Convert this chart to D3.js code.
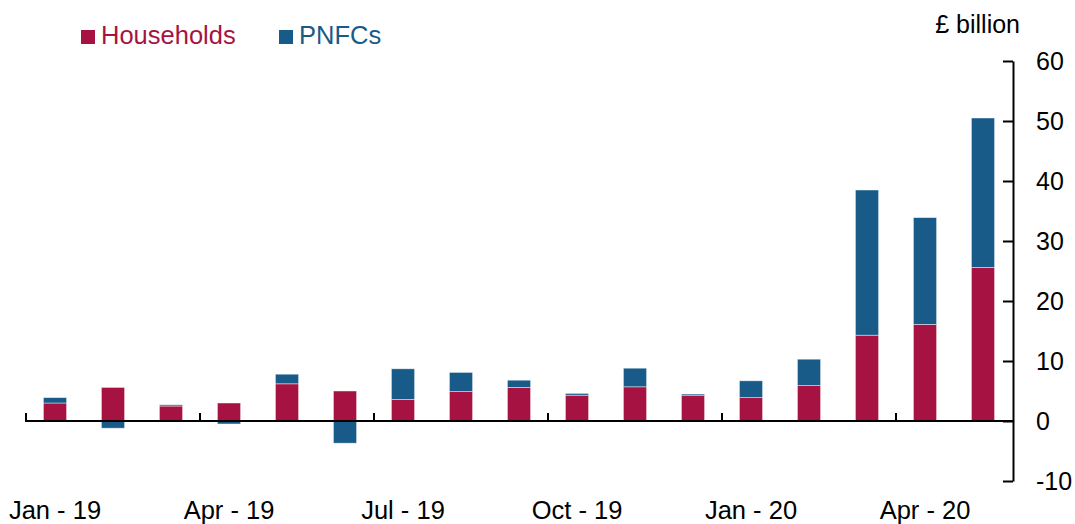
<!DOCTYPE html>
<html>
<head>
<meta charset="utf-8">
<script src="https://cdn.jsdelivr.net/npm/d3@7"></script>
<style>
  body { margin: 0; background: #fff; }
  svg text { font-family: "Liberation Sans", Arial, sans-serif; }
</style>
</head>
<body>
<svg id="chart" width="1075" height="524"></svg>
<script>
// monthly flows, £ billion
var months = ["Jan-19","Feb-19","Mar-19","Apr-19","May-19","Jun-19","Jul-19","Aug-19","Sep-19",
              "Oct-19","Nov-19","Dec-19","Jan-20","Feb-20","Mar-20","Apr-20","May-20"];
var households = [3.0, 5.6, 2.5, 3.0, 6.2, 5.0, 3.6, 4.9, 5.6, 4.3, 5.7, 4.3, 3.9, 5.9, 14.3, 16.1, 25.6];
var pnfcs      = [0.9, -1.2, 0.2, -0.5, 1.6, -3.7, 5.1, 3.2, 1.2, 0.3, 3.1, 0.2, 2.8, 4.4, 24.2, 17.8, 24.9];
var quarterLabels = ["Jan - 19", "Apr - 19", "Jul - 19", "Oct - 19", "Jan - 20", "Apr - 20"];
var yTicks = [-10, 0, 10, 20, 30, 40, 50, 60];

var seriesNames = ["Households", "PNFCs"];
var colors = { Households: "#a61342", PNFCs: "#185a88" };

var svg = d3.select("#chart");

var x = d3.scaleBand()
    .domain(months)
    .range([26, 1012])
    .paddingInner(0.6)
    .paddingOuter(0.3);

var y = d3.scaleLinear()
    .domain([-10, 60])
    .range([481, 61]);

var rows = months.map(function (m, i) {
  return { month: m, Households: households[i], PNFCs: pnfcs[i] };
});

var stack = d3.stack()
    .keys(seriesNames)
    .offset(d3.stackOffsetDiverging);
var layers = stack(rows);

svg.append("g").selectAll("g")
    .data(layers)
  .enter().append("g")
    .attr("fill", function (d) { return colors[d.key]; })
  .selectAll("rect")
    .data(function (d) { return d; })
  .enter().append("rect")
    .attr("x", function (d) { return x(d.data.month); })
    .attr("width", x.bandwidth())
    .attr("y", function (d) { return y(Math.max(d[0], d[1])); })
    .attr("height", function (d) { return Math.abs(y(d[0]) - y(d[1])); })
    .attr("stroke", "rgba(255,255,255,0.55)")
    .attr("stroke-width", 0.8);

// zero line with quarterly ticks pointing up
var gap = (x.step() - x.bandwidth()) / 2;
svg.append("line")
    .attr("x1", 25).attr("x2", 1013)
    .attr("y1", y(0)).attr("y2", y(0))
    .attr("stroke", "#000").attr("stroke-width", 2);

var quarterMonths = months.filter(function (m, i) { return i % 3 === 0; });
svg.append("g").selectAll("line")
    .data(quarterMonths)
  .enter().append("line")
    .attr("x1", function (m) { return x(m) - gap; })
    .attr("x2", function (m) { return x(m) - gap; })
    .attr("y1", y(0)).attr("y2", y(0) - 8)
    .attr("stroke", "#000").attr("stroke-width", 2);

svg.append("g").selectAll("text")
    .data(quarterMonths)
  .enter().append("text")
    .attr("x", function (m) { return x(m) + x.bandwidth() / 2; })
    .attr("y", 519)
    .attr("text-anchor", "middle")
    .attr("font-size", 25.5)
    .attr("fill", "#000")
    .text(function (m, i) { return quarterLabels[i]; });

// right-hand value axis
var yAxis = d3.axisRight(y)
    .tickValues(yTicks)
    .tickFormat(function (d) { return String(d); })
    .tickSizeInner(-10)
    .tickSizeOuter(0)
    .tickPadding(23);

var gy = svg.append("g")
    .attr("transform", "translate(1013,0)")
    .call(yAxis);
gy.select(".domain").attr("stroke", "#000").attr("stroke-width", 2);
gy.selectAll(".tick line").attr("stroke", "#000").attr("stroke-width", 2);
gy.selectAll(".tick text")
    .attr("font-size", 25)
    .attr("font-family", "Liberation Sans, Arial, sans-serif")
    .attr("fill", "#000")
    .attr("text-anchor", "start");

svg.append("text")
    .attr("x", 1020).attr("y", 33)
    .attr("text-anchor", "end")
    .attr("font-size", 25)
    .attr("fill", "#000")
    .text("£ billion");

// legend
var legendX = [81, 279];
var legend = svg.append("g").selectAll("g")
    .data(seriesNames)
  .enter().append("g")
    .attr("transform", function (d, i) { return "translate(" + legendX[i] + ",30)"; });
legend.append("rect")
    .attr("width", 14).attr("height", 14)
    .attr("fill", function (d) { return colors[d]; });
legend.append("text")
    .attr("x", 20).attr("y", 14)
    .attr("font-size", 25.5)
    .attr("fill", function (d) { return colors[d]; })
    .text(function (d) { return d; });
</script>
</body>
</html>
